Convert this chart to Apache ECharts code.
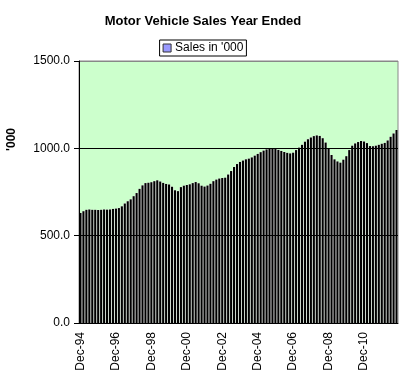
<!DOCTYPE html>
<html><head><meta charset="utf-8">
<script src="https://cdn.jsdelivr.net/npm/echarts@6/dist/echarts.min.js"></script>
<style>html,body{margin:0;padding:0;background:#fff}#c{width:406px;height:378px}</style>
</head><body><div id="c"></div>
<script>
// Bimonthly periods from Dec-94
const categories = (function(){
  const m=['Dec','Feb','Apr','Jun','Aug','Oct'];
  const out=[];
  for(let i=0;i<108;i++){
    const mi=i%6;
    const yr=94+Math.floor((i+5)/6);
    out.push(m[mi]+'-'+String(yr%100).padStart(2,'0'));
  }
  return out;
})();
const salesValues = [
 630,640,648,650,648,648,647,648,650,649,650,653,
 655,658,668,684,697,708,726,744,768,788,801,803,
 806,812,817,810,802,796,793,780,760,755,778,786,
 790,794,801,807,800,786,781,787,797,812,821,827,
 830,832,850,870,893,910,922,930,937,941,948,958,
 968,978,987,994,998,1000,996,991,985,979,974,971,
 975,990,1004,1020,1038,1052,1062,1070,1074,1071,1058,1033,
 1000,962,937,925,918,935,955,990,1015,1028,1036,1042,
 1039,1030,1013,1012,1015,1020,1026,1031,1045,1066,1085,1105
];
const yTicks = [0,500,1000,1500];
const seriesName = "Sales in '000";

const chart = echarts.init(document.getElementById('c'));
const font = 'Liberation Sans, Arial, sans-serif';
chart.setOption({
  animation:false,
  title:{text:'Motor Vehicle Sales Year Ended',left:'center',top:10,
    textStyle:{fontFamily:font,fontSize:13,fontWeight:'bold',color:'#000'}},
  legend:{top:40,left:'center',itemWidth:8,itemHeight:8,itemGap:4,padding:[2,3,2,3],
    borderColor:'#000',borderWidth:1,
    textStyle:{fontFamily:font,fontSize:12,color:'#000',padding:[0,0,0,-1]},
    data:[{name:seriesName,icon:'rect',itemStyle:{color:'#9999ff',borderColor:'#333',borderWidth:1}}]},
  grid:{left:79,right:8,top:61,bottom:55,show:true,backgroundColor:'#ccffcc',borderColor:'#888',borderWidth:1,z:0},
  xAxis:[{type:'category',data:categories,boundaryGap:true,z:3,
    axisLine:{lineStyle:{color:'#000',width:1}},
    axisTick:{interval:11,length:5,lineStyle:{color:'#000'}},
    axisLabel:{interval:11,rotate:90,margin:9,fontFamily:font,fontSize:12,color:'#000'}},
   {type:'category',data:categories,show:false}],
  yAxis:{type:'value',min:0,max:1500,interval:500,z:1,
    axisLine:{show:true,lineStyle:{color:'#000'}},
    axisTick:{show:true,length:5,lineStyle:{color:'#000'}},
    axisLabel:{margin:9,fontFamily:font,fontSize:12,color:'#000',formatter:v=>v.toFixed(1)},
    splitLine:{show:true,lineStyle:{color:['#000','#000','#000','#888'],width:1}}},
  graphic:[{type:'text',left:6,top:128,rotation:Math.PI/2,
    style:{text:"'000",fontFamily:font,fontSize:12,fontWeight:'bold',fill:'#000'}}],
  series:[
    {name:'bg',type:'bar',xAxisIndex:1,data:salesValues,barCategoryGap:'0%',
      itemStyle:{color:'#ffffff'},silent:true,z:0.5},
    {name:seriesName,type:'bar',xAxisIndex:0,data:salesValues,barCategoryGap:'28%',
      itemStyle:{color:'#000000'},z:2}
  ]
});
</script></body></html>
